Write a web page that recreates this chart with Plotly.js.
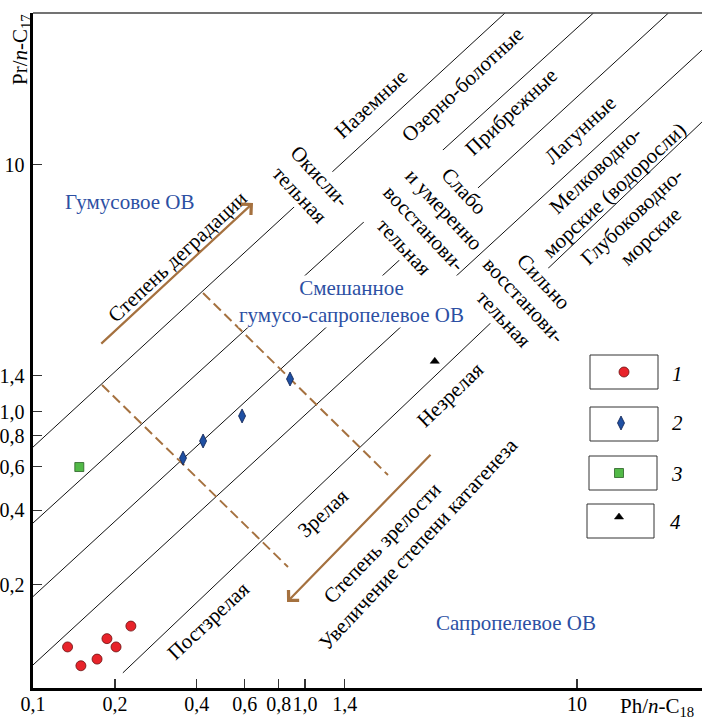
<!DOCTYPE html>
<html>
<head>
<meta charset="utf-8">
<script src="https://cdn.plot.ly/plotly-3.0.1.min.js"></script>
<style>html,body{margin:0;padding:0;background:#fff;}#chart{width:702px;height:720px;}</style>
</head>
<body>
<div id="chart"></div>
<script>
// ---------------- DATA ----------------
// Sample groups: Ph/n-C18 (x) and Pr/n-C17 (y)
const group1Ph = [0.134, 0.150, 0.172, 0.187, 0.202, 0.229];
const group1Pr = [0.112, 0.094, 0.100, 0.121, 0.112, 0.136];
const group2Ph = [0.356, 0.422, 0.587, 0.881];
const group2Pr = [0.650, 0.762, 0.962, 1.357];
const group3Ph = [0.148];
const group3Pr = [0.598];
const group4Ph = [3.0];
const group4Pr = [1.6];

// Diagonal boundary lines (start / end points in data units)
const diagX0 = [0.1, 0.1, 0.1, 0.1, 0.214];
const diagY0 = [0.72, 0.355, 0.179, 0.0947, 0.088];
const diagX1 = [5.44, 11.5, 21.7, 28.8, 28.8];
const diagY1 = [41.0, 41.0, 41.0, 29.0, 14.85];

// Dashed maturity boundaries (start / end points in data units)
const dashX0 = [0.4217, 0.1794];
const dashY0 = [3.023, 1.284];
const dashX1 = [2.019, 0.866];
const dashY1 = [0.555, 0.2357];

// Trend arrows (tail -> head, data units)
const arrowTailX = [0.176, 2.93];
const arrowTailY = [1.863, 0.68];
const arrowHeadX = [0.644, 0.859];
const arrowHeadY = [6.99, 0.170];

// Tick labels
const xTickVals = [0.1, 0.2, 0.4, 0.6, 0.8, 1.0, 1.4, 10];
const xTickText = ['0,1', '0,2', '0,4', '0,6', '0,8', '1,0', '1,4', '10'];
const yTickVals = [0.2, 0.4, 0.6, 0.8, 1.0, 1.4, 10];
const yTickText = ['0,2', '0,4', '0,6', '0,8', '1,0', '1,4', '10'];

const legendLabels = ['1', '2', '3', '4'];

// ---------------- STYLE / LAYOUT ----------------
const FONT = '"Liberation Serif", "Times New Roman", Times, serif';
const BROWN = '#a5713f';
const BLUE_TXT = '#2c4fa3';
const ML = 33, MT = 13, PW = 669, PH = 675;
function P(xp, yp) { return { x: (xp - ML) / PW, y: (MT + PH - yp) / PH }; }

const traces = [];
for (let i = 0; i < diagX0.length; i++) {
  traces.push({
    x: [diagX0[i], diagX1[i]], y: [diagY0[i], diagY1[i]],
    mode: 'lines', line: { color: '#111', width: 1 },
    hoverinfo: 'skip', showlegend: false
  });
}
for (let i = 0; i < dashX0.length; i++) {
  traces.push({
    x: [dashX0[i], dashX1[i]], y: [dashY0[i], dashY1[i]],
    mode: 'lines', line: { color: BROWN, width: 2, dash: '10px,5px' },
    hoverinfo: 'skip', showlegend: false
  });
}

const styles = [
  { symbol: 'circle', size: 10, color: '#e8232a', line: { color: '#6a1010', width: 0.8 } },
  { symbol: 'diamond-tall', size: 10, color: '#1f50a3', line: { color: '#0b1d4d', width: 0.8 } },
  { symbol: 'square', size: 9, color: '#52b947', line: { color: '#2a5f25', width: 0.8 } },
  { symbol: 'triangle-up', size: 8, color: '#000', line: { color: '#000', width: 0.5 } }
];
const groupsX = [group1Ph, group2Ph, group3Ph, group4Ph];
const groupsY = [group1Pr, group2Pr, group3Pr, group4Pr];
for (let g = 0; g < 4; g++) {
  traces.push({
    x: groupsX[g], y: groupsY[g], mode: 'markers',
    marker: styles[g], showlegend: false, hoverinfo: 'x+y'
  });
}

const legendBoxes = [[590, 355, 658, 389], [590, 407, 658, 441], [589, 456, 657, 490], [587, 504, 654, 538]];
const legendSym = [[624, 372], [621, 423], [619, 473], [619, 517]];
const legendTxt = [[677, 374], [677, 423], [677, 474], [675, 522]];
for (let g = 0; g < 4; g++) {
  const p = P(legendSym[g][0], legendSym[g][1]);
  traces.push({
    x: [p.x], y: [p.y], xaxis: 'x2', yaxis: 'y2', mode: 'markers',
    marker: styles[g], showlegend: false, hoverinfo: 'skip'
  });
}

const shapes = [];
shapes.push({ type: 'line', xref: 'paper', yref: 'paper', x0: 0, x1: 1, y0: 1, y1: 1,
  line: { color: '#444', width: 1.5 } });
legendBoxes.forEach(b => {
  const a = P(b[0], b[1]), c = P(b[2], b[3]);
  shapes.push({ type: 'rect', xref: 'paper', yref: 'paper', x0: a.x, y0: a.y, x1: c.x, y1: c.y,
    line: { color: '#333', width: 1 }, fillcolor: 'rgba(0,0,0,0)' });
});

const annotations = [];
function txt(t, xp, yp, angle, opts) {
  const p = P(xp, yp);
  const o = Object.assign({
    text: t, x: p.x, y: p.y, xref: 'paper', yref: 'paper', showarrow: false,
    textangle: angle, xanchor: 'center', yanchor: 'middle', align: 'center',
    font: { family: FONT, size: 21, color: '#000' }
  }, opts || {});
  annotations.push(o);
}
const bgOpt = { bgcolor: '#fff', borderpad: 0 };
txt('Наземные', 371, 104, -43);
txt('Озерно-болотные', 462, 85, -43);
txt('Прибрежные', 511, 112, -43);
txt('Лагунные', 580, 130, -43);
txt('Мелководно-<br>морские (водоросли)', 604, 180, -43);
txt('Глубоководно-<br>морские', 641, 227, -43);
txt('Окисли-<br>тельная', 310, 185, 47, bgOpt);
txt('Слабо<br>и умеренно<br>восстанови-<br>тельная', 434, 219, 47, bgOpt);
txt('Сильно<br>восстанови-<br>тельная', 524, 300, 47, bgOpt);
txt('Незрелая', 450, 395, -44);
txt('Зрелая', 323, 513, -43);
txt('Постзрелая', 208, 621, -43);
txt('Степень деградации', 177, 257, -43);
txt('Степень зрелости', 382, 543, -46);
txt('Увеличение степени катагенеза', 418, 544, -47);
const blueFont = { family: FONT, size: 21, color: BLUE_TXT };
txt('Гумусовое ОВ', 129, 202, 0, { font: blueFont });
txt('Смешанное<br>гумусо-сапропелевое ОВ', 351, 301, 0, Object.assign({ font: blueFont }, bgOpt));
txt('Сапропелевое ОВ', 516, 623, 0, { font: blueFont });
txt('Pr/<i>n</i>-C<sub>17</sub>', 21, 50, -90, { font: { family: FONT, size: 21, color: '#000' } });
txt('Ph/<i>n</i>-C<sub>18</sub>', 657, 707, 0, { font: { family: FONT, size: 21, color: '#000' } });
legendLabels.forEach((l, i) => {
  txt(l, legendTxt[i][0], legendTxt[i][1], 0, { font: { family: FONT, size: 21, color: '#000', style: 'italic' } });
});
for (let i = 0; i < arrowTailX.length; i++) {
  annotations.push({
    x: Math.log10(arrowHeadX[i]), y: Math.log10(arrowHeadY[i]),
    ax: Math.log10(arrowTailX[i]), ay: Math.log10(arrowTailY[i]),
    xref: 'x', yref: 'y', axref: 'x', ayref: 'y', text: '',
    showarrow: true, arrowhead: 4, arrowsize: 1.3, arrowwidth: 2.2, arrowcolor: BROWN
  });
}

const layout = {
  width: 702, height: 720,
  margin: { l: ML, r: 702 - ML - PW, t: MT, b: 720 - MT - PH, pad: 0 },
  paper_bgcolor: '#fff', plot_bgcolor: '#fff',
  showlegend: false,
  font: { family: FONT, size: 20, color: '#000' },
  xaxis: {
    type: 'log', range: [-1, 1.4596], showgrid: false, zeroline: false,
    showline: true, linecolor: '#000', linewidth: 2.6,
    ticks: 'inside', ticklen: 9, tickwidth: 1.3, tickcolor: '#333',
    tickvals: xTickVals, ticktext: xTickText, tickangle: 0, ticklabelstandoff: -4,
    tickfont: { family: FONT, size: 20, color: '#000' }
  },
  yaxis: {
    type: 'log', range: [-1.11686, 1.61262], showgrid: false, zeroline: false,
    showline: true, linecolor: '#000', linewidth: 2.6,
    ticks: 'inside', ticklen: 9, tickwidth: 1.3, tickcolor: '#333',
    tickvals: yTickVals, ticktext: yTickText, ticklabelstandoff: 2,
    tickfont: { family: FONT, size: 20, color: '#000' }
  },
  xaxis2: { overlaying: 'x', range: [0, 1], visible: false, fixedrange: true },
  yaxis2: { overlaying: 'y', range: [0, 1], visible: false, fixedrange: true },
  shapes: shapes,
  annotations: annotations
};

Plotly.newPlot('chart', traces, layout, { displayModeBar: false, staticPlot: true });
</script>
</body>
</html>
